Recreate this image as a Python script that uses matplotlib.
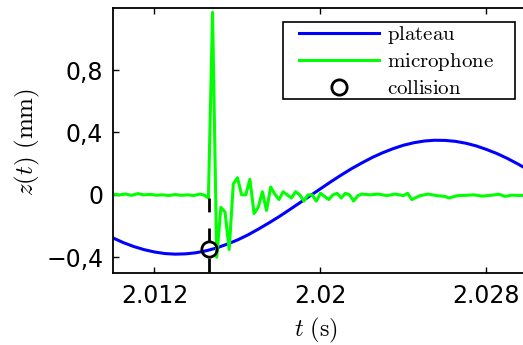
import matplotlib
matplotlib.use("Agg")
import matplotlib.pyplot as plt
from matplotlib.patches import Rectangle

plt.rcParams['mathtext.fontset'] = 'cm'
plt.rcParams['font.family'] = ['DejaVu Sans']

# plateau displacement (blue)
plateau_t = [2.0100, 2.0105, 2.0110, 2.0115, 2.0120, 2.0125, 2.0130, 2.0135,
             2.0140, 2.0145, 2.0150, 2.0155, 2.0160, 2.0165, 2.0170, 2.0175,
             2.0180, 2.0185, 2.0190, 2.0195, 2.0200, 2.0205, 2.0210, 2.0215,
             2.0220, 2.0225, 2.0230, 2.0235, 2.0240, 2.0245, 2.0250, 2.0255,
             2.0260, 2.0265, 2.0270, 2.0275, 2.0280, 2.0285, 2.0290, 2.0295,
             2.0300]
plateau_z = [-0.276, -0.306, -0.331, -0.351, -0.366, -0.376, -0.380, -0.378,
             -0.371, -0.358, -0.340, -0.316, -0.289, -0.257, -0.220, -0.181,
             -0.140, -0.096, -0.051, -0.006, 0.039, 0.084, 0.127, 0.168,
             0.205, 0.240, 0.270, 0.296, 0.318, 0.334, 0.345, 0.350,
             0.349, 0.343, 0.331, 0.314, 0.291, 0.265, 0.234, 0.199,
             0.161]

# microphone signal (green)
mic_t = [2.0100, 2.0103, 2.0106, 2.0109, 2.0112, 2.0115, 2.0118, 2.0121,
         2.0124, 2.0127, 2.0130, 2.0133, 2.0136, 2.0139, 2.0142, 2.0144,
         2.0146, 2.0148, 2.0150, 2.0152, 2.0154, 2.0156, 2.0158, 2.0160,
         2.0162, 2.0164, 2.0166, 2.0168, 2.0170, 2.0172, 2.0174, 2.0176,
         2.0178, 2.0180, 2.0182, 2.0184, 2.0186, 2.0188, 2.0190, 2.0192,
         2.0194, 2.0196, 2.0198, 2.0200, 2.0202, 2.0204, 2.0206, 2.0208,
         2.0210, 2.0212, 2.0214, 2.0216, 2.0218, 2.0220, 2.0224, 2.0228,
         2.0232, 2.0236, 2.0240, 2.0242, 2.0244, 2.0248, 2.0252, 2.0256,
         2.0260, 2.0262, 2.0266, 2.0270, 2.0274, 2.0278, 2.0282, 2.0286,
         2.0289, 2.0292, 2.0296, 2.0300]
mic_z = [0.005, 0.0, 0.005, -0.003, 0.008, 0.0, 0.003, -0.002,
         0.0, -0.004, 0.002, -0.003, 0.0, -0.004, 0.005, -0.002,
         -0.02, 1.17, -0.40, -0.08, -0.11, -0.35, 0.07, 0.11,
         0.0, 0.0, 0.10, -0.12, -0.08, 0.02, -0.10, 0.05,
         0.005, -0.03, 0.02, 0.0, -0.02, 0.02, 0.0, -0.04,
         0.0, 0.0, -0.04, 0.01, -0.01, -0.03, 0.0, 0.01,
         -0.02, 0.01, 0.0, -0.04, -0.005, 0.005, 0.0, 0.005,
         -0.005, 0.005, -0.005, 0.01, -0.03, -0.005, 0.005, -0.005,
         -0.01, -0.02, -0.005, -0.003, 0.0, -0.008, -0.003, 0.004,
         -0.01, -0.002, -0.004, -0.003]

# collision point
coll_t = 2.01462
coll_z = -0.35
coll_top = -0.02

xticks = [2.012, 2.02, 2.028]
xticklabels = ['2.012', '2.02', '2.028']
yticks = [-0.4, 0, 0.4, 0.8]
yticklabels = ['\u22120,4', '0', '0,4', '0,8']

W, H = 523, 345
fig = plt.figure(figsize=(W / 100, H / 100), dpi=100)
ax = fig.add_axes([0.216, 0.209, 0.7935, 0.769])

ax.plot(plateau_t, plateau_z, color=(0, 0, 1), lw=2.2, label=r'$\mathrm{plateau}$')
ax.plot(mic_t, mic_z, color=(0, 1, 0), lw=2.2, label=r'$\mathrm{microphone}$')
ax.plot([coll_t, coll_t], [coll_top, -0.5], color='k', lw=2, dashes=[5.0, 5.8])
ax.plot([coll_t], [coll_z], 'o', ms=11, mfc='none', mec='k', mew=2,
        label=r'$\mathrm{collision}$', zorder=5)

ax.set_xlim(2.010, 2.030)
ax.set_ylim(-0.5, 1.2)
ax.set_xticks(xticks)
ax.set_xticklabels(xticklabels)
ax.set_yticks(yticks)
ax.set_yticklabels(yticklabels)
ax.tick_params(direction='in', top=True, right=False, length=4, width=1,
               labelsize=17)
ax.tick_params(axis='y', pad=7)
ax.tick_params(axis='x', pad=8)
for s in ax.spines.values():
    s.set_linewidth(1.3)

ax.set_xlabel(r'$t\ (\mathrm{s})$', fontsize=17.5)
ax.set_ylabel(r'$z(t)\ (\mathrm{mm})$', fontsize=18)
ax.xaxis.set_label_coords(0.49, -0.163)
ax.yaxis.set_label_coords(-0.171, 0.493)

# legend box drawn separately (matlab style padding)
box = Rectangle((283 / W, 1 - 99 / H), (515 - 283) / W, (99 - 22) / H,
                transform=fig.transFigure, facecolor='white', edgecolor='k',
                lw=1.2, zorder=4.9, clip_on=False)
ax.add_patch(box)
leg = ax.legend(loc='upper left', bbox_to_anchor=(299 / W, 1 - 24 / H),
                bbox_transform=fig.transFigure, borderaxespad=0, borderpad=0,
                fontsize=15, frameon=False,
                handlelength=3.84, handletextpad=0.38, labelspacing=0.25)
leg.set_zorder(5)

fig.savefig('out.png', dpi=100)
